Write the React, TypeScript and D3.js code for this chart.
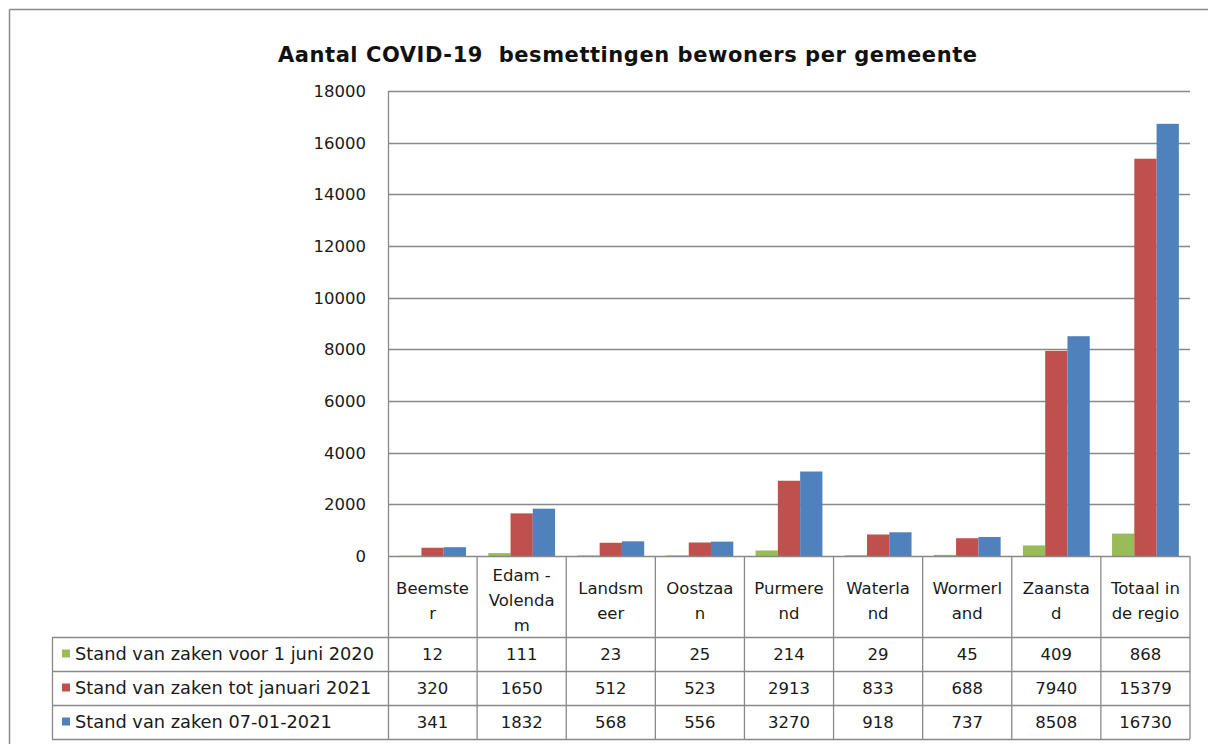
import { scaleBand, scaleLinear } from 'd3';

const gemeenten = ['Beemster', 'Edam-Volendam', 'Landsmeer', 'Oostzaan', 'Purmerend', 'Waterland', 'Wormerland', 'Zaanstad', 'Totaal in de regio'];
// header cell text as Excel wrapped it
const gemeenteLabels = [
  ['Beemste', 'r'],
  ['Edam -', 'Volenda', 'm'],
  ['Landsm', 'eer'],
  ['Oostzaa', 'n'],
  ['Purmere', 'nd'],
  ['Waterla', 'nd'],
  ['Wormerl', 'and'],
  ['Zaansta', 'd'],
  ['Totaal in', 'de regio'],
];

const reeksen = ['Stand van zaken voor 1 juni 2020', 'Stand van zaken tot januari 2021', 'Stand van zaken 07-01-2021'];
const kleuren = ['#9bbb59', '#c0504d', '#4f81bd'];

const voorJuni2020 = [12, 111, 23, 25, 214, 29, 45, 409, 868];
const totJanuari2021 = [320, 1650, 512, 523, 2913, 833, 688, 7940, 15379];
const stand070121 = [341, 1832, 568, 556, 3270, 918, 737, 8508, 16730];
const waarden = [voorJuni2020, totJanuari2021, stand070121];

const yTicks = [0, 2000, 4000, 6000, 8000, 10000, 12000, 14000, 16000, 18000];

const W = 1208;
const H = 744;
const left = 388;
const right = 1190;
const top = 91;
const base = 556;
const rowLines = [637, 671, 705, 739];
const legendLeft = 52;
const grid = '#898989';
const font = 'DejaVu Sans, sans-serif';

export default function App() {
  const x0 = scaleBand<string>().domain(gemeenten).range([left, right]).padding(0);
  const x1 = scaleBand<string>().domain(reeksen).range([0, x0.bandwidth()]).paddingInner(0).paddingOuter(0.5);
  const y = scaleLinear().domain([0, 18000]).range([base, top]);

  return (
    <svg width={W} height={H} style={{ position: 'absolute', left: 0, top: 0, background: '#fff' }} fontFamily={font}>
      <rect x={0} y={0} width={W} height={H} fill="#fff" />
      {/* outer chart frame */}
      <line x1={9.5} y1={9.5} x2={W} y2={9.5} stroke="#8a8a8a" strokeWidth={1.5} />
      <line x1={9.5} y1={9.5} x2={9.5} y2={H} stroke="#8a8a8a" strokeWidth={1.5} />

      <text
        x={627.5}
        y={62}
        textAnchor="middle"
        fontSize={21}
        fontWeight="bold"
        fill="#111"
        textLength={699}
        lengthAdjust="spacing"
        style={{ whiteSpace: 'pre' }}
      >
        {'Aantal COVID-19  besmettingen bewoners per gemeente'}
      </text>

      {/* grid and y axis */}
      {yTicks.map((t) => (
        <g key={t}>
          {t > 0 && <line x1={left} x2={right} y1={Math.round(y(t)) + 0.5} y2={Math.round(y(t)) + 0.5} stroke={grid} strokeWidth={1.3} />}
          <text x={366} y={y(t)} dy="0.36em" textAnchor="end" fontSize={16.5} fill="#1a1a1a">
            {t}
          </text>
        </g>
      ))}
      <line x1={left + 0.5} x2={left + 0.5} y1={top} y2={rowLines[3]} stroke={grid} strokeWidth={1.3} />

      {/* bars */}
      {waarden.map((reeks, i) => (
        <g key={reeksen[i]} fill={kleuren[i]}>
          {reeks.map((v, j) => (
            <rect
              key={gemeenten[j]}
              x={(x0(gemeenten[j]) as number) + (x1(reeksen[i]) as number)}
              y={y(v)}
              width={x1.bandwidth()}
              height={base - y(v)}
            />
          ))}
        </g>
      ))}

      {/* data table */}
      <line x1={left} x2={right} y1={base + 0.5} y2={base + 0.5} stroke={grid} strokeWidth={1.3} />
      {rowLines.map((ry) => (
        <line key={ry} x1={legendLeft} x2={right} y1={ry + 0.5} y2={ry + 0.5} stroke={grid} strokeWidth={1.3} />
      ))}
      <line x1={legendLeft + 0.5} x2={legendLeft + 0.5} y1={rowLines[0]} y2={rowLines[3]} stroke={grid} strokeWidth={1.3} />
      {gemeenten.map((g) => {
        const xe = (x0(g) as number) + x0.bandwidth();
        return <line key={g} x1={xe} x2={xe} y1={base} y2={rowLines[3]} stroke={grid} strokeWidth={1.3} />;
      })}

      {gemeenteLabels.map((lines, j) => {
        const cx = (x0(gemeenten[j]) as number) + x0.bandwidth() / 2;
        return (
          <text key={gemeenten[j]} textAnchor="middle" fontSize={16.5} fill="#1a1a1a">
            {lines.map((l, k) => (
              <tspan key={k} x={cx} y={606 + (k - (lines.length - 1) / 2) * 25}>
                {l}
              </tspan>
            ))}
          </text>
        );
      })}

      {reeksen.map((naam, i) => {
        const rowMid = (rowLines[i] + rowLines[i + 1]) / 2;
        return (
          <g key={naam}>
            <rect x={62} y={rowMid - 4.5} width={8} height={8} fill={kleuren[i]} />
            <text x={75} y={rowMid} dy="0.36em" fontSize={17.8} fill="#1a1a1a">
              {naam}
            </text>
            {waarden[i].map((v, j) => (
              <text
                key={gemeenten[j]}
                x={(x0(gemeenten[j]) as number) + x0.bandwidth() / 2}
                y={rowMid}
                dy="0.36em"
                textAnchor="middle"
                fontSize={16.5}
                fill="#1a1a1a"
              >
                {v}
              </text>
            ))}
          </g>
        );
      })}
    </svg>
  );
}
